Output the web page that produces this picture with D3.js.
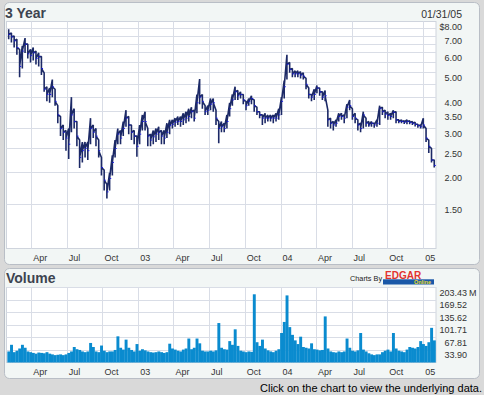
<!DOCTYPE html>
<html>
<head>
<meta charset="utf-8">
<script src="https://cdn.jsdelivr.net/npm/d3@7"></script>
<style>
  body { margin: 0; background: #d9d9d9; }
  svg { display: block; }
  text { font-family: "Liberation Sans", Arial, sans-serif; }
</style>
</head>
<body>
<div id="chart"></div>
<script>
// weekly bars, first week ending Fri 2002-02-01
let firstWeek = "2002-02-01";

let close = [
  7.1, 6.95, 6.7, 6.3, 5.3, 6.1, 6.5, 5.95, 5.85, 6.0, 5.7, 5.8, 5.2, 4.3, 4.1, 4.1, 4.4, 3.85,
  3.4, 3.0, 2.9, 2.75, 2.6, 3.4, 3.2, 2.8, 2.3, 2.45, 2.5, 2.45, 3.0, 2.9, 2.8, 2.45, 2.1, 1.87, 1.68, 1.9, 2.2, 2.5, 2.85,
  2.75, 3.0, 3.3, 3.1, 2.9, 2.8, 2.55, 2.85, 3.2, 3.2, 2.8, 2.7, 2.78, 2.85, 2.9, 2.8, 2.75, 2.9, 3.08, 3.12, 3.18, 3.2, 3.2, 3.25, 3.3, 3.35,
  3.5, 3.3, 3.8, 4.0, 3.85, 3.5, 3.55, 3.75, 3.8, 3.3, 3.0, 3.05, 3.0, 3.2, 3.6, 3.9, 4.2, 4.05, 4.1, 3.9, 3.7, 3.85, 3.95, 3.7, 3.5, 3.4, 3.3, 3.3, 3.3, 3.3, 3.3, 3.3, 3.4,
  3.85, 4.4, 5.4, 5.15, 4.95, 4.95, 4.95, 4.9, 4.85, 4.5, 4.1, 4.0, 4.1, 4.35, 4.2, 4.0, 4.05, 3.25, 3.15, 3.1, 3.15, 3.35, 3.35, 3.3, 3.65, 3.7, 3.35,
  3.3, 3.1, 3.0, 3.4, 3.15, 3.1, 3.15, 3.1, 3.15, 3.6, 3.5, 3.42, 3.38, 3.35, 3.48, 3.25, 3.2, 3.2, 3.18, 3.2, 3.17, 3.15, 3.12, 3.08, 3.05, 3.1, 2.75, 2.55, 2.25, 2.14
];
let high = [
  7.45, 7.2, 7.0, 6.8, 6.2, 6.4, 6.87, 6.5, 6.2, 6.3, 6.1, 6.0, 5.8, 5.0, 4.4, 4.35, 4.7, 4.3,
  3.7, 3.35, 3.1, 2.95, 3.0, 4.0, 3.6, 3.2, 2.7, 2.65, 2.65, 2.65, 3.3, 3.1, 3.0, 2.7, 2.3, 2.05, 1.8, 2.0, 2.35, 2.7, 3.0,
  2.95, 3.2, 3.55, 3.35, 3.1, 2.95, 2.8, 3.1, 3.4, 3.5, 3.0, 2.85, 2.95, 3.0, 3.05, 2.95, 2.95, 3.15, 3.25, 3.25, 3.3, 3.35, 3.35, 3.45, 3.5, 3.6,
  3.65, 3.55, 4.1, 4.72, 4.1, 3.7, 3.7, 3.95, 3.95, 3.55, 3.2, 3.2, 3.15, 3.4, 3.8, 4.1, 4.4, 4.25, 4.2, 4.1, 3.85, 3.95, 4.05, 3.9, 3.65, 3.5, 3.4, 3.45, 3.4, 3.4, 3.4, 3.45, 3.6,
  4.0, 4.65, 5.9, 5.5, 5.2, 5.1, 5.1, 5.05, 5.0, 4.75, 4.35, 4.1, 4.3, 4.45, 4.35, 4.2, 4.25, 3.55, 3.3, 3.2, 3.25, 3.45, 3.45, 3.4, 3.75, 3.9, 3.6,
  3.45, 3.25, 3.15, 3.5, 3.3, 3.2, 3.2, 3.15, 3.25, 3.7, 3.65, 3.55, 3.5, 3.45, 3.55, 3.5, 3.25, 3.25, 3.22, 3.25, 3.22, 3.2, 3.18, 3.12, 3.1, 3.3, 3.0, 2.7, 2.5, 2.25
];
let low = [
  6.8, 6.6, 6.3, 5.9, 4.8, 5.2, 6.0, 5.7, 5.5, 5.6, 5.4, 5.3, 4.9, 4.2, 3.85, 3.8, 4.0, 3.7,
  3.15, 2.8, 2.7, 2.45, 2.27, 2.9, 3.0, 2.55, 2.09, 2.2, 2.3, 2.25, 2.6, 2.75, 2.55, 2.3, 1.95, 1.7, 1.58, 1.7, 1.95, 2.3, 2.6,
  2.6, 2.8, 3.05, 2.85, 2.7, 2.6, 2.32, 2.6, 2.95, 2.95, 2.55, 2.55, 2.6, 2.65, 2.7, 2.6, 2.6, 2.75, 2.85, 3.0, 3.05, 3.1, 3.05, 3.1, 3.15, 3.2,
  3.3, 3.2, 3.45, 3.75, 3.6, 3.4, 3.4, 3.55, 3.5, 3.1, 2.62, 2.9, 2.9, 3.0, 3.35, 3.7, 3.9, 3.9, 3.95, 3.75, 3.55, 3.7, 3.75, 3.5, 3.4, 3.3, 3.1, 3.15, 3.2, 3.2, 3.15, 3.2, 3.25,
  3.4, 3.95, 4.7, 5.0, 4.8, 4.8, 4.8, 4.75, 4.7, 4.3, 3.95, 3.85, 3.9, 4.15, 4.05, 3.9, 3.85, 3.05, 3.0, 2.95, 3.05, 3.2, 3.25, 3.15, 3.3, 3.55, 3.25,
  3.15, 2.95, 2.9, 3.0, 3.05, 3.05, 3.05, 3.02, 3.05, 3.1, 3.4, 3.3, 3.25, 3.25, 3.3, 3.15, 3.15, 3.15, 3.13, 3.12, 3.12, 3.1, 3.06, 3.02, 3.0, 3.0, 2.65, 2.4, 2.2, 2.1
];
// volume in millions
let volume = [
  30, 48, 28, 32, 38, 48, 40, 30, 28, 26, 24, 27, 26, 25, 28, 24, 22, 20,
  21, 22, 20, 22, 26, 30, 42, 36, 34, 30, 28, 30, 53, 42, 30, 28, 46, 32, 28, 30, 30, 34, 71,
  40, 35, 62, 40, 34, 30, 50, 32, 36, 33, 30, 28, 27, 28, 30, 28, 26, 28, 51, 38, 35, 32, 30, 35, 38, 65,
  36, 40, 65, 52, 32, 30, 30, 32, 30, 33, 107, 40, 36, 35, 58, 48, 90, 45, 32, 30, 28, 30, 29, 185, 55, 45, 62, 38, 33, 30, 28, 32, 36,
  80, 110, 182, 96, 75, 60, 50, 70, 42, 40, 38, 52, 36, 35, 33, 34, 125, 38, 30, 28, 27, 30, 28, 30, 65, 40, 32,
  30, 33, 80, 35, 30, 25, 22, 20, 22, 22, 28, 32, 35, 30, 80, 38, 32, 30, 28, 35, 42, 40, 38, 42, 58, 50, 45, 55, 94, 60
];

let monthTicks = ["2002-04-01", "2002-07-01", "2002-10-01", "2003-01-01", "2003-04-01", "2003-07-01",
                  "2003-10-01", "2004-01-01", "2004-04-01", "2004-07-01", "2004-10-01", "2005-01-01"];
let monthLabels = ["Apr", "Jul", "Oct", "03", "Apr", "Jul", "Oct", "04", "Apr", "Jul", "Oct", "05"];
let priceTicks = [1.5, 2, 2.5, 3, 3.5, 4, 5, 6, 7, 8];
let priceGrid = [1.5, 2, 2.5, 3, 3.5, 4, 4.5, 5, 5.5, 6, 6.5, 7, 7.5];
let volTicks = [33.90, 67.81, 101.71, 135.62, 169.52, 203.43];

const parse = d3.timeParse("%Y-%m-%d");
const start = parse(firstWeek);
const weeks = close.map((c, i) => ({
  date: d3.timeDay.offset(start, 7 * i),
  close: c, high: high[i], low: low[i], vol: volume[i]
}));
const tickDates = monthTicks.map(parse);

const W = 484, H = 395;
const svg = d3.select("#chart").append("svg")
    .attr("width", W)
    .attr("height", H);

svg.append("rect").attr("width", W).attr("height", H).attr("fill", "#d9d9d9");

// panels
[[2.5, 262], [268.5, 110]].forEach(p => {
  svg.append("rect")
      .attr("x", 4.5).attr("y", p[0])
      .attr("width", 475).attr("height", p[1])
      .attr("rx", 5)
      .attr("fill", "#f2f6f5")
      .attr("stroke", "#b9bec6");
});

let left = 6.5, right = 436;
let pTop = 21.5, pBot = 248.5;
let vTop = 287.5, vBot = 362.5;

let x = d3.scaleTime()
    .domain([parse("2002-01-31"), parse("2005-01-31")])
    .range([8.3, 435.4]);
let y = d3.scaleLog().domain([1, 8]).range([pBot, pTop]);
let yv = d3.scaleLinear().domain([0, 203.43]).range([vBot, vTop]);

const crisp = v => Math.floor(v) + 0.5;
const gridColor = "#d9dde6";

// plot backgrounds
[[pTop, pBot], [vTop, vBot]].forEach(p => {
  svg.append("rect")
      .attr("x", left).attr("y", p[0])
      .attr("width", right - left).attr("height", p[1] - p[0])
      .attr("fill", "#fff")
      .attr("stroke", "#cfd4dd");
});

// vertical grid in both plots
[[pTop, pBot], [vTop, vBot]].forEach(p => {
  svg.append("g").selectAll("line")
      .data(tickDates)
    .enter().append("line")
      .attr("x1", d => crisp(x(d))).attr("x2", d => crisp(x(d)))
      .attr("y1", p[0]).attr("y2", p[1])
      .attr("stroke", gridColor);
});

// horizontal grid
svg.append("g").selectAll("line")
    .data(priceGrid)
  .enter().append("line")
    .attr("x1", left).attr("x2", right)
    .attr("y1", d => crisp(y(d))).attr("y2", d => crisp(y(d)))
    .attr("stroke", gridColor);

svg.append("g").selectAll("line")
    .data(volTicks)
  .enter().append("line")
    .attr("x1", left).attr("x2", right)
    .attr("y1", d => crisp(yv(d))).attr("y2", d => crisp(yv(d)))
    .attr("stroke", gridColor);

// volume bars
let bw = x(d3.timeDay.offset(start, 7)) - x(start);
svg.append("g").selectAll("rect")
    .data(weeks)
  .enter().append("rect")
    .attr("x", d => x(d.date) - bw / 2)
    .attr("width", bw + 0.2)
    .attr("y", d => yv(d.vol))
    .attr("height", d => vBot - yv(d.vol))
    .attr("fill", "#0a8bcf");

// price: high-low bars joined through the closes
let path = d3.path();
weeks.forEach((d, i) => {
  let px = x(d.date);
  if (i === 0) path.moveTo(px, y(d.close));
  path.lineTo(px, y(d.high));
  path.lineTo(px, y(d.low));
  path.lineTo(px, y(d.close));
});
svg.append("path")
    .attr("d", path.toString())
    .attr("fill", "none")
    .attr("stroke", "#1c2966")
    .attr("stroke-width", 1.6)
    .attr("stroke-linejoin", "bevel");

svg.append("g").selectAll("line")
    .data(weeks)
  .enter().append("line")
    .attr("x1", d => x(d.date)).attr("x2", d => x(d.date) + 1.6)
    .attr("y1", d => y(d.close)).attr("y2", d => y(d.close))
    .attr("stroke", "#1818e0")
    .attr("stroke-width", 1);

// x axes
const monthFmt = d => monthLabels[tickDates.findIndex(t => +t === +d)];
[260.5, 374.5].forEach(ty => {
  let g = svg.append("g")
      .attr("transform", "translate(0," + ty + ")")
      .call(d3.axisBottom(x).tickValues(tickDates).tickFormat(monthFmt).tickSize(0).tickPadding(0));
  g.select(".domain").remove();
  g.selectAll("text")
      .attr("text-anchor", "start")
      .attr("dx", 1)
      .attr("dy", 0)
      .attr("font-size", 9)
      .attr("font-family", "Liberation Sans, Arial, sans-serif")
      .attr("fill", "#333");
});

// price axis on the right
let pa = svg.append("g")
    .attr("transform", "translate(462,5)")
    .call(d3.axisRight(y).tickValues(priceTicks)
      .tickFormat(d => (d === 8 ? "$" : "") + d.toFixed(2))
      .tickSize(0).tickPadding(0));
pa.select(".domain").remove();
pa.selectAll("text")
    .attr("text-anchor", "end")
    .attr("font-size", 9)
    .attr("font-family", "Liberation Sans, Arial, sans-serif")
    .attr("fill", "#333");

// volume axis on the right
let va = svg.append("g")
    .attr("transform", "translate(467,5)")
    .call(d3.axisRight(yv).tickValues(volTicks)
      .tickFormat(d => d.toFixed(2))
      .tickSize(0).tickPadding(0));
va.select(".domain").remove();
va.selectAll("text")
    .attr("text-anchor", "end")
    .attr("font-size", 9)
    .attr("font-family", "Liberation Sans, Arial, sans-serif")
    .attr("fill", "#333");
svg.append("text")
    .attr("x", 469).attr("y", yv(203.43) + 8)
    .attr("font-size", 9)
    .attr("fill", "#333")
    .text("M");

// titles
svg.append("text")
    .attr("x", 5).attr("y", 17.5)
    .attr("font-size", 14).attr("font-weight", "bold")
    .attr("fill", "#3d4450")
    .text("3 Year");
svg.append("text")
    .attr("x", 462).attr("y", 17.5)
    .attr("text-anchor", "end")
    .attr("font-size", 10.5)
    .attr("fill", "#333")
    .text("01/31/05");
svg.append("text")
    .attr("x", 6).attr("y", 283)
    .attr("font-size", 14).attr("font-weight", "bold")
    .attr("fill", "#3d4450")
    .text("Volume");

// "Charts By" logo
svg.append("text")
    .attr("x", 350).attr("y", 280.5)
    .attr("font-size", 7.3)
    .attr("fill", "#222")
    .text("Charts By");
svg.append("rect")
    .attr("x", 383).attr("y", 279.3)
    .attr("width", 51).attr("height", 5.2)
    .attr("fill", "#1a58a8");
svg.append("text")
    .attr("x", 385).attr("y", 278.8)
    .attr("font-size", 10).attr("font-weight", "bold")
    .attr("font-family", "Liberation Serif, serif")
    .attr("fill", "#e2332f")
    .text("EDGAR");
svg.append("text")
    .attr("x", 431).attr("y", 284.3)
    .attr("text-anchor", "end")
    .attr("font-size", 5.5).attr("font-weight", "bold")
    .attr("fill", "#e9dd2a")
    .text("Online");

svg.append("text")
    .attr("x", 482).attr("y", 391.5)
    .attr("text-anchor", "end")
    .attr("font-size", 11)
    .attr("fill", "#000")
    .text("Click on the chart to view the underlying data.");
</script>
</body>
</html>
